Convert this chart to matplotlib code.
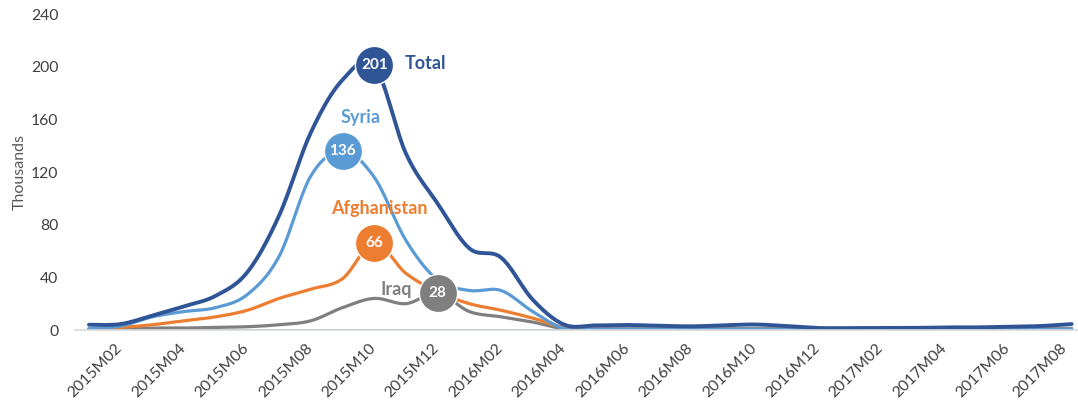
"""
Monthly asylum applicants (thousands): Total, Syria, Afghanistan, Iraq.
"""
import numpy as np
import matplotlib
matplotlib.use("Agg")
import matplotlib.pyplot as plt

plt.rcParams['font.family'] = ['Lato', 'DejaVu Sans']

# data: 2015M01 .. 2017M08, thousands
months = ["%dM%02d" % (y, m) for y in (2015, 2016, 2017) for m in range(1, 13)][:32]

total = [4, 4.5, 11, 18, 26, 44, 87, 150, 190, 201, 134, 96, 62, 55, 23, 4,
         3.5, 3.8, 3.2, 2.8, 3.5, 4.2, 3, 1.5, 1.5, 1.5, 1.6, 2, 2, 2.5, 3, 4.5]
syria = [1, 3, 10, 14, 17, 27, 56, 117, 136, 116, 68, 38, 30, 30, 14, 1,
         0.8, 0.8, 0.8, 0.7, 0.7, 0.8, 0.6, 0.4, 0.4, 0.4, 0.4, 0.5, 0.5, 0.5, 0.6, 0.8]
afghanistan = [1, 2, 4, 7, 10, 15, 24, 31, 39, 66, 43, 29, 20, 15, 9, 2,
               0.8, 0.8, 0.7, 0.6, 0.7, 0.8, 0.6, 0.4, 0.4, 0.4, 0.4, 0.5, 0.5, 0.5, 0.6, 0.8]
iraq = [1, 1, 1.5, 1.5, 2, 2.5, 4, 7, 17, 24, 20, 28, 14, 10, 6, 1,
        1, 1, 1, 0.8, 1, 1.2, 0.8, 0.5, 0.5, 0.5, 0.5, 0.6, 0.6, 0.7, 0.8, 1.2]

series = [
    ("Iraq", iraq, "#7f7f7f", 2.3),
    ("Afghanistan", afghanistan, "#ed7d31", 2.3),
    ("Syria", syria, "#5b9bd5", 2.3),
    ("Total", total, "#2f5597", 2.8),
]

# name label offsets (pixels) from the peak marker
name_offsets = {
    "Total": (30, 2, "left"),
    "Syria": (18, 33, "center"),
    "Afghanistan": (5, 35, "center"),
    "Iraq": (-41, 4, "center"),
}


def smooth(y, n=20):
    """Catmull-Rom style smoothing like Excel's smoothed lines."""
    y = np.asarray(y, dtype=float)
    x = np.arange(len(y), dtype=float)
    px = np.concatenate([[x[0]], x, [x[-1]]])
    py = np.concatenate([[y[0]], y, [y[-1]]])
    xs, ys = [], []
    t = np.linspace(0, 1, n, endpoint=False)
    for i in range(1, len(px) - 2):
        p0, p1, p2, p3 = (np.array([px[j], py[j]]) for j in (i - 1, i, i + 1, i + 2))
        c1 = p1 + (p2 - p0) / 6
        c2 = p2 - (p3 - p1) / 6
        b = ((1 - t) ** 3)[:, None] * p1 + (3 * (1 - t) ** 2 * t)[:, None] * c1 \
            + (3 * (1 - t) * t ** 2)[:, None] * c2 + (t ** 3)[:, None] * p2
        xs.append(b[:, 0])
        ys.append(b[:, 1])
    xs.append([x[-1]])
    ys.append([y[-1]])
    return np.concatenate(xs), np.concatenate(ys)


fig = plt.figure(figsize=(10.78, 4.05), dpi=100)
ax = fig.add_axes([75 / 1078, 1 - 330 / 405, 1 - 75 / 1078, 316 / 405])

# thin zero line in the Syria colour seen under the series
ax.plot([0, 15], [0, 0], color="#5b9bd5", lw=1.2, zorder=1)

for name, vals, color, lw in series:
    sx, sy = smooth(vals)
    ax.plot(sx, sy, color=color, lw=lw, solid_capstyle="round", zorder=2)

for name, vals, color, lw in series:
    i = int(np.argmax(vals))
    ax.plot(i, vals[i], "o", ms=27.5, mfc=color, mec="white", mew=1.0, zorder=5)
    ax.text(i, vals[i], "%d" % round(vals[i]), color="white", fontsize=11,
            fontweight="bold", ha="center", va="center", zorder=6)
    dx, dy, ha = name_offsets[name]
    ax.annotate(name, (i, vals[i]), xytext=(dx * 0.72, dy * 0.72),
                textcoords="offset points", color=color, fontsize=13,
                fontweight="bold", ha=ha, va="center", zorder=6)

ax.set_xlim(-0.44, 31.2)
ax.set_ylim(0, 240)
ax.set_yticks(range(0, 241, 40))

# category labels every second month, rotated like the original
xticks = list(range(1, 32, 2))
ax.set_xticks(xticks)
ax.set_xticklabels([])
for k, i in enumerate(xticks):
    dx = -9 if k == len(xticks) - 1 else -4
    ax.annotate(months[i], (i, 0), xycoords=ax.get_xaxis_transform(),
                xytext=(dx, -8), textcoords="offset points", rotation=45,
                rotation_mode="anchor", ha="right", va="top",
                fontsize=11.3, color="#404040")

ax.tick_params(length=0, labelsize=11.3, labelcolor="#404040")
ax.tick_params(axis="y", pad=12)
for s in ("top", "right", "left"):
    ax.spines[s].set_visible(False)
ax.spines["bottom"].set_color("#d9d9d9")
ax.spines["bottom"].set_linewidth(1.2)
ax.set_ylabel("Thousands", fontsize=11.5, color="#595959", labelpad=3)

fig.savefig("out.png", dpi=100)
